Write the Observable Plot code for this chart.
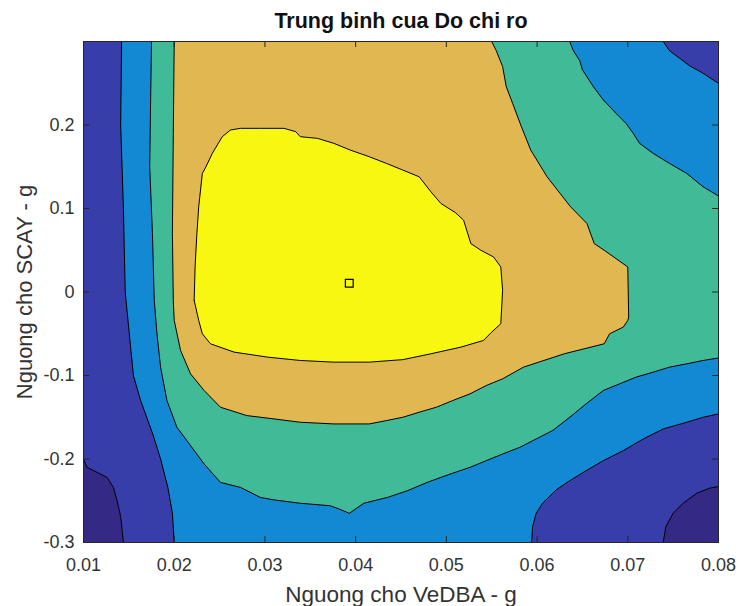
<!DOCTYPE html>
<html>
<head>
<meta charset="utf-8">
<script src="https://cdn.jsdelivr.net/npm/d3@7"></script>
<script src="https://cdn.jsdelivr.net/npm/@observablehq/plot@0.6"></script>
<style>
  html, body { margin: 0; padding: 0; background: white; }
</style>
</head>
<body>
<div id="chart"></div>
<script>
const title = "Trung binh cua Do chi ro";
const xLabel = "Nguong cho VeDBA - g";
const yLabel = "Nguong cho SCAY - g";
const xTicks = [0.01, 0.02, 0.03, 0.04, 0.05, 0.06, 0.07, 0.08];
const yTicks = [-0.3, -0.2, -0.1, 0, 0.1, 0.2];
const levelColors = ["#342a86", "#373da9", "#1389d3", "#41bb97", "#e0b750", "#f7f711"];

// contour boundaries: [VeDBA, SCAY]
const b01Left = [[0.01,-0.2],[0.0104,-0.21],[0.0115,-0.216],[0.0126,-0.222],[0.0133,-0.234],[0.0137,-0.25],[0.0141,-0.269],[0.0144,-0.3]];
const b01Right = [[0.0739,-0.3],[0.0742,-0.281],[0.075,-0.265],[0.0761,-0.253],[0.0776,-0.241],[0.079,-0.235],[0.08,-0.233]];
const b12Left = [[0.0142,0.3],[0.0141,0.2],[0.0144,0.1],[0.0146,0],[0.0155,-0.1],[0.0163,-0.13],[0.0176,-0.169],[0.0185,-0.2],[0.0193,-0.234],[0.0198,-0.265],[0.02,-0.3]];
const b12Right = [[0.0594,-0.3],[0.0595,-0.281],[0.0599,-0.265],[0.0606,-0.253],[0.0621,-0.237],[0.0636,-0.226],[0.0654,-0.214],[0.0673,-0.202],[0.0695,-0.19],[0.0717,-0.176],[0.0739,-0.164],[0.0765,-0.156],[0.0783,-0.15],[0.08,-0.146]];
const b12Top = [[0.08,0.25],[0.0794,0.254],[0.0783,0.262],[0.0768,0.271],[0.0757,0.28],[0.0746,0.289],[0.0739,0.3]];
const b23Left = [[0.0175,0.3],[0.0174,0.23],[0.0173,0.15],[0.0176,0.07],[0.0178,-0.01],[0.0181,-0.05],[0.0185,-0.09],[0.0192,-0.13],[0.0203,-0.162],[0.0214,-0.178],[0.0233,-0.206],[0.0251,-0.228],[0.0273,-0.234],[0.0295,-0.246],[0.031,-0.249],[0.0339,-0.253],[0.0372,-0.256],[0.0382,-0.26],[0.0393,-0.265],[0.0409,-0.253],[0.0435,-0.246],[0.0457,-0.238],[0.0479,-0.228],[0.0494,-0.222],[0.0507,-0.217],[0.0526,-0.21],[0.0544,-0.202],[0.0562,-0.194],[0.0581,-0.186],[0.0599,-0.176],[0.0617,-0.166],[0.0636,-0.15],[0.0654,-0.134],[0.0673,-0.118],[0.0691,-0.11],[0.0709,-0.102],[0.0728,-0.096],[0.0746,-0.09],[0.0765,-0.086],[0.0783,-0.082],[0.08,-0.079]];
const b23Top = [[0.08,0.115],[0.0783,0.126],[0.0765,0.142],[0.0746,0.154],[0.0728,0.166],[0.0713,0.178],[0.0706,0.19],[0.0698,0.202],[0.0687,0.214],[0.0673,0.23],[0.0662,0.246],[0.065,0.266],[0.0647,0.277],[0.064,0.289],[0.0636,0.3]];
const b34 = [[0.02,0.3],[0.0199,0.19],[0.0198,0.07],[0.0199,-0.01],[0.02,-0.034],[0.0207,-0.07],[0.0218,-0.098],[0.0233,-0.118],[0.0251,-0.138],[0.028,-0.148],[0.031,-0.152],[0.0339,-0.156],[0.0376,-0.158],[0.0415,-0.158],[0.0434,-0.154],[0.0452,-0.15],[0.047,-0.144],[0.0489,-0.138],[0.0507,-0.13],[0.0526,-0.122],[0.0544,-0.112],[0.0562,-0.104],[0.0585,-0.09],[0.063,-0.074],[0.0674,-0.062],[0.068,-0.05],[0.0695,-0.042],[0.07,-0.034],[0.0701,-0.03],[0.07,0.03],[0.0674,0.05],[0.0663,0.058],[0.0655,0.082],[0.0637,0.102],[0.0611,0.138],[0.0593,0.17],[0.0582,0.2],[0.0573,0.226],[0.0566,0.246],[0.0562,0.27],[0.0555,0.289],[0.055,0.3]];
const b45 = [[0.0222,-0.01],[0.0223,0.03],[0.0225,0.07],[0.0227,0.102],[0.0231,0.142],[0.0235,0.15],[0.0242,0.166],[0.0253,0.186],[0.0262,0.194],[0.0273,0.196],[0.0295,0.196],[0.0321,0.196],[0.0334,0.192],[0.0339,0.186],[0.0358,0.184],[0.0376,0.178],[0.0394,0.17],[0.0415,0.162],[0.0434,0.154],[0.0452,0.146],[0.047,0.138],[0.0483,0.12],[0.0494,0.106],[0.051,0.095],[0.0519,0.086],[0.0527,0.058],[0.0538,0.05],[0.0552,0.042],[0.056,0.03],[0.0562,0.002],[0.056,-0.038],[0.0549,-0.049],[0.0541,-0.058],[0.0516,-0.066],[0.0483,-0.074],[0.0452,-0.081],[0.0415,-0.084],[0.0376,-0.084],[0.0339,-0.082],[0.0303,-0.078],[0.0266,-0.072],[0.024,-0.062],[0.0231,-0.05],[0.0227,-0.034]];
const bestPoint = [[0.0393, 0.0104]];

const xMin = xTicks[0], xMax = xTicks[xTicks.length - 1];
const yMin = -0.3, yMax = 0.3;

// filled regions (painter's order), built from boundaries plus frame corners
const region0a = [...b01Left, [xMin, yMin]];
const region0b = [...b01Right, [xMax, yMin]];
const region2 = [...b12Left, ...b12Right, ...b12Top];
const region3 = [...b23Left, ...b23Top];
const region4 = [...b34];
const region5 = [...b45];

const closed = (a) => [...a, a[0]];
const fillMark = (pts, color) => Plot.line(pts, {x: d => d[0], y: d => d[1], fill: color, stroke: "none"});
const lineMark = (pts) => Plot.line(pts, {x: d => d[0], y: d => d[1], stroke: "#000", strokeWidth: 1});

const W = 739, H = 606;
const mL = 83, mR = 21, mT = 41, mB = 64;
const fw = W - mL - mR, fh = H - mT - mB;
const axisColor = "#262626";

const chart = Plot.plot({
  width: W,
  height: H,
  marginLeft: mL, marginRight: mR, marginTop: mT, marginBottom: mB,
  x: {domain: [xMin, xMax]},
  y: {domain: [yMin, yMax]},
  style: {fontFamily: "'Liberation Sans', Arial, Helvetica, sans-serif", fontSize: "18px", color: axisColor, background: "white"},
  marks: [
    Plot.frame({fill: levelColors[1], stroke: "none"}),
    fillMark(region0a, levelColors[0]),
    fillMark(region0b, levelColors[0]),
    fillMark(region2, levelColors[2]),
    fillMark(region3, levelColors[3]),
    fillMark(region4, levelColors[4]),
    fillMark(region5, levelColors[5]),
    lineMark(b01Left),
    lineMark(b01Right),
    lineMark(b12Left),
    lineMark(b12Right),
    lineMark(b12Top),
    lineMark(b23Left),
    lineMark(b23Top),
    lineMark(b34),
    lineMark(closed(b45)),
    Plot.dot(bestPoint, {x: d => d[0], y: d => d[1], symbol: "square", r: 4.4, stroke: "#000", strokeWidth: 1.2, fill: "none"}),
    // inward ticks on all four sides
    Plot.tickX(xTicks, {x: d => d, insetTop: fh - 6, stroke: axisColor}),
    Plot.tickX(xTicks, {x: d => d, insetBottom: fh - 6, stroke: axisColor}),
    Plot.tickY(yTicks, {y: d => d, insetRight: fw - 6, stroke: axisColor}),
    Plot.tickY(yTicks, {y: d => d, insetLeft: fw - 6, stroke: axisColor}),
    Plot.frame({stroke: axisColor, strokeWidth: 1}),
    Plot.axisX(xTicks, {anchor: "bottom", tickSize: 0, tickPadding: 16, tickFormat: d => String(d), label: null, fontSize: 18, fill: "#333"}),
    Plot.axisY(yTicks, {anchor: "left", tickSize: 0, tickPadding: 9, tickFormat: d => String(d), label: null, fontSize: 18, fill: "#333"}),
    Plot.text([title], {text: d => d, frameAnchor: "top", dy: -20, lineAnchor: "middle", textAnchor: "middle", fontSize: 21.5, fontWeight: "bold", fill: "#111"}),
    Plot.text([xLabel], {text: d => d, frameAnchor: "bottom", dy: 52, lineAnchor: "middle", textAnchor: "middle", fontSize: 22.5, fill: "#333"}),
    Plot.text([yLabel], {text: d => d, frameAnchor: "left", dx: -59, rotate: -90, lineAnchor: "middle", textAnchor: "middle", fontSize: 22, fill: "#333"})
  ]
});
document.getElementById("chart").appendChild(chart);
</script>
</body>
</html>
